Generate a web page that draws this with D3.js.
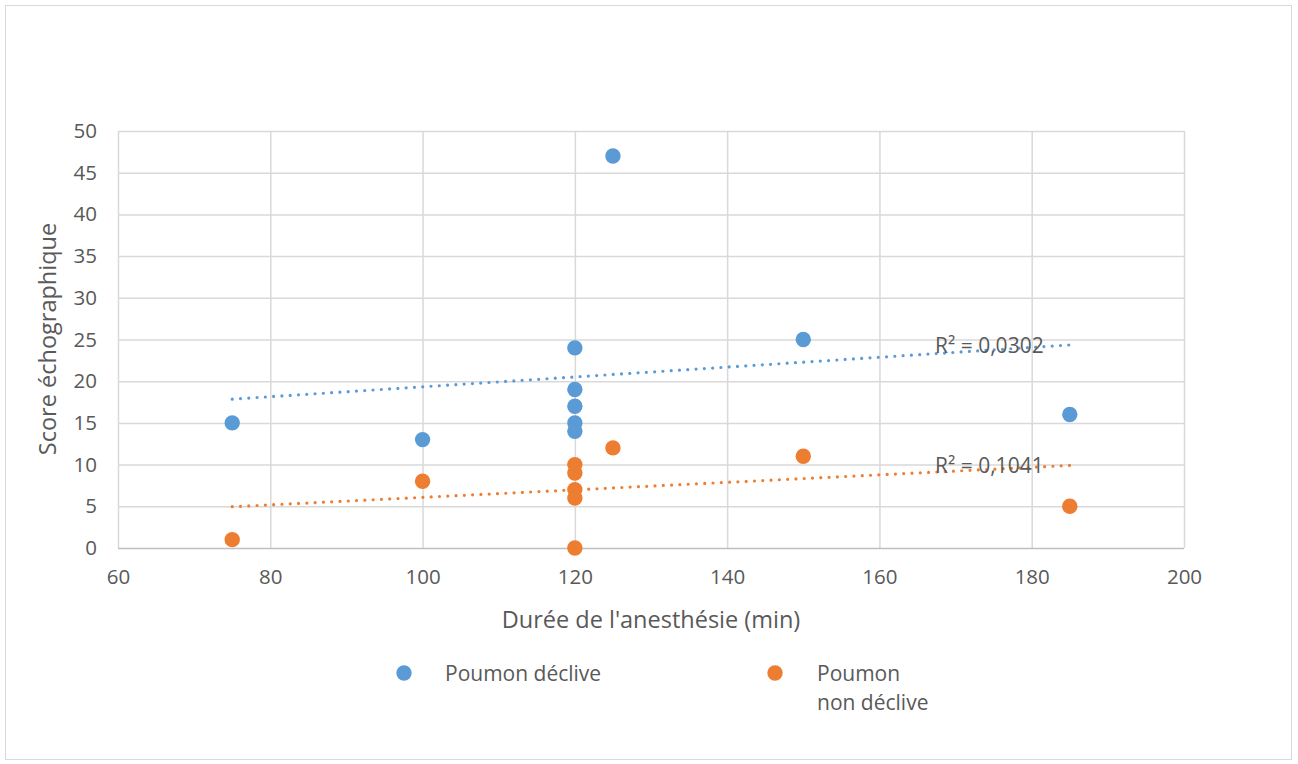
<!DOCTYPE html>
<html><head><meta charset="utf-8">
<script src="https://cdn.jsdelivr.net/npm/d3@7/dist/d3.min.js"></script>
<style>body{margin:0;background:#fff;} svg{display:block;font-family:"Open Sans",sans-serif;}</style>
</head><body>
<svg id="c" width="1298" height="764"></svg>
<script>
const seriesNames = ["Poumon déclive", "Poumon non déclive"];
const durations = [75, 100, 120, 120, 120, 120, 120, 125, 150, 185];
const scoreDeclive = [15, 13, 24, 19, 17, 15, 14, 47, 25, 16];
const scoreNonDeclive = [1, 8, 10, 9, 7, 6, 0, 12, 11, 5];
const trendX = [75, 185];
const trendDeclive = [17.85, 24.35];
const trendNonDeclive = [4.95, 9.9];
const r2Labels = ["R² = 0,0302", "R² = 0,1041"];
const xTicks = [60, 80, 100, 120, 140, 160, 180, 200];
const yTicks = [0, 5, 10, 15, 20, 25, 30, 35, 40, 45, 50];
const colors = ["#5b9bd5", "#ed7d31"];
const FONT = "'Open Sans',sans-serif";
const TXT = "#595959";

const svg = d3.select("#c");
svg.append("rect").attr("x",5.5).attr("y",5.5).attr("width",1286).attr("height",754)
  .attr("fill","#fff").attr("stroke","#d9d9d9");

const x = d3.scaleLinear().domain([60,200]).range([118,1184]);
const y = d3.scaleLinear().domain([0,50]).range([548,131]);

const g = svg.append("g");
g.selectAll(".vg").data(xTicks).join("line")
  .attr("x1",d=>x(d)+0.5).attr("x2",d=>x(d)+0.5).attr("y1",y(50)).attr("y2",y(0))
  .attr("stroke","#d9d9d9").attr("stroke-width",1.5);
g.selectAll(".hg").data(yTicks).join("line")
  .attr("y1",d=>y(d)+0.5).attr("y2",d=>y(d)+0.5).attr("x1",x(60)).attr("x2",x(200))
  .attr("stroke",d=>d===0?"#bfbfbf":"#d9d9d9").attr("stroke-width",1.5);

const xa = svg.append("g").attr("transform",`translate(0,${y(0)})`)
  .call(d3.axisBottom(x).tickValues(xTicks).tickSize(0).tickPadding(21));
xa.select(".domain").remove();
xa.selectAll("text").attr("font-size",20.5).attr("fill",TXT).attr("font-family",FONT);
const ya = svg.append("g").attr("transform",`translate(${x(60)},0)`)
  .call(d3.axisLeft(y).tickValues(yTicks).tickSize(0).tickPadding(21));
ya.select(".domain").remove();
ya.selectAll("text").attr("font-size",20.5).attr("fill",TXT).attr("font-family",FONT);

svg.append("text").attr("x",651).attr("y",628).attr("text-anchor","middle")
  .attr("font-size",23.5).attr("fill",TXT).text("Durée de l'anesthésie (min)");
svg.append("text").attr("transform","translate(56,339) rotate(-90)").attr("text-anchor","middle")
  .attr("font-size",23.5).attr("fill",TXT).text("Score échographique");

const trends = [trendDeclive, trendNonDeclive];
trends.forEach((t,i)=>{
  svg.append("line").attr("x1",x(trendX[0])).attr("y1",y(t[0])).attr("x2",x(trendX[1])).attr("y2",y(t[1]))
    .attr("stroke",colors[i]).attr("stroke-width",3.2).attr("stroke-linecap","round")
    .attr("stroke-dasharray","0 8.3");
});

[scoreDeclive, scoreNonDeclive].forEach((s,i)=>{
  svg.append("g").selectAll("circle").data(durations.map((d,j)=>[d,s[j]])).join("circle")
    .attr("cx",d=>x(d[0])).attr("cy",d=>y(d[1])).attr("r",7.7).attr("fill",colors[i]);
});

svg.append("text").attr("x",935).attr("y",353).attr("font-size",21).attr("fill",TXT).text(r2Labels[0]);
svg.append("text").attr("x",935).attr("y",473).attr("font-size",21).attr("fill",TXT).text(r2Labels[1]);

svg.append("circle").attr("cx",404).attr("cy",673).attr("r",7.7).attr("fill",colors[0]);
svg.append("text").attr("x",445).attr("y",681).attr("font-size",21).attr("fill",TXT).text(seriesNames[0]);
svg.append("circle").attr("cx",775).attr("cy",673).attr("r",7.7).attr("fill",colors[1]);
const t2 = svg.append("text").attr("x",817).attr("y",681).attr("font-size",21).attr("fill",TXT);
t2.append("tspan").attr("x",817).text("Poumon");
t2.append("tspan").attr("x",817).attr("dy",29).text("non déclive");
</script>
</body></html>
